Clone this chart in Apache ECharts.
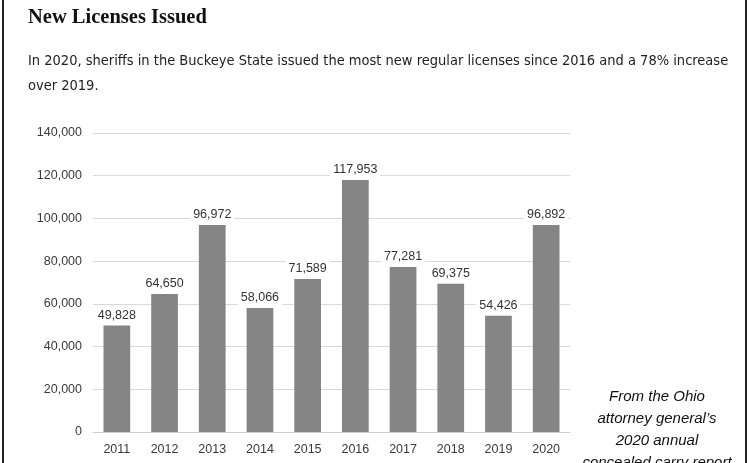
<!DOCTYPE html>
<html>
<head>
<meta charset="utf-8">
<script src="https://cdn.jsdelivr.net/npm/echarts@6/dist/echarts.min.js"></script>
<style>
  html, body { margin: 0; padding: 0; background: #fff; }
  #chart { width: 750px; height: 463px; }
</style>
</head>
<body>
<div id="chart"></div>
<script>
var years = ['2011', '2012', '2013', '2014', '2015', '2016', '2017', '2018', '2019', '2020'];
var licenses = [49828, 64650, 96972, 58066, 71589, 117953, 77281, 69375, 54426, 96892];

var chart = echarts.init(document.getElementById('chart'), null, { renderer: 'canvas' });

function fmt(v) {
  return String(v).replace(/\B(?=(\d{3})+(?!\d))/g, ',');
}

var option = {
  backgroundColor: '#fff',
  animation: false,
  graphic: [
    // box border left / right
    { type: 'rect', shape: { x: 2, y: 0, width: 2, height: 463 }, style: { fill: '#222' } },
    { type: 'rect', shape: { x: 745, y: 0, width: 2, height: 463 }, style: { fill: '#222' } },
    {
      type: 'text', left: 28, top: 7,
      style: { text: 'New Licenses Issued', font: 'bold 20.5px "Liberation Serif"', fill: '#111' }
    },
    {
      type: 'text', left: 28, top: 49,
      style: {
        text: 'In 2020, sheriffs in the Buckeye State issued the most new regular licenses since 2016 and a 78% increase\nover 2019.',
        font: '14.5px "Liberation Sans Narrow", "DejaVu Sans Condensed", "Liberation Sans"',
        lineHeight: 25, fill: '#222'
      }
    },
    {
      type: 'text', x: 657, y: 386,
      style: {
        text: 'From the Ohio\nattorney general\u2019s\n2020 annual\nconcealed carry report',
        font: 'italic 15px "Liberation Sans"',
        lineHeight: 22, align: 'center', fill: '#111'
      }
    }
  ],
  grid: { left: 93, right: 180, top: 133, bottom: 31, containLabel: false },
  xAxis: {
    type: 'category',
    data: years,
    axisLine: { lineStyle: { color: '#cfcfcf' } },
    axisTick: { show: false },
    axisLabel: { color: '#3a3a3a', fontSize: 12.5, fontFamily: 'Liberation Sans', margin: 11 }
  },
  yAxis: {
    type: 'value',
    min: 0, max: 140000, interval: 20000,
    axisLine: { show: false },
    axisTick: { show: false },
    splitLine: { lineStyle: { color: '#d9d9d9' } },
    axisLabel: { color: '#3a3a3a', fontSize: 12.5, fontFamily: 'Liberation Sans', margin: 11, formatter: fmt }
  },
  series: [{
    type: 'bar',
    data: licenses,
    barWidth: '56%',
    itemStyle: { color: '#858585' },
    label: {
      show: true,
      position: 'top',
      distance: 3,
      color: '#333',
      fontSize: 12.5,
      fontFamily: 'Liberation Sans',
      backgroundColor: '#fff',
      padding: [1, 3],
      formatter: function (p) { return fmt(p.value); }
    }
  }]
};

chart.setOption(option);
</script>
</body>
</html>
